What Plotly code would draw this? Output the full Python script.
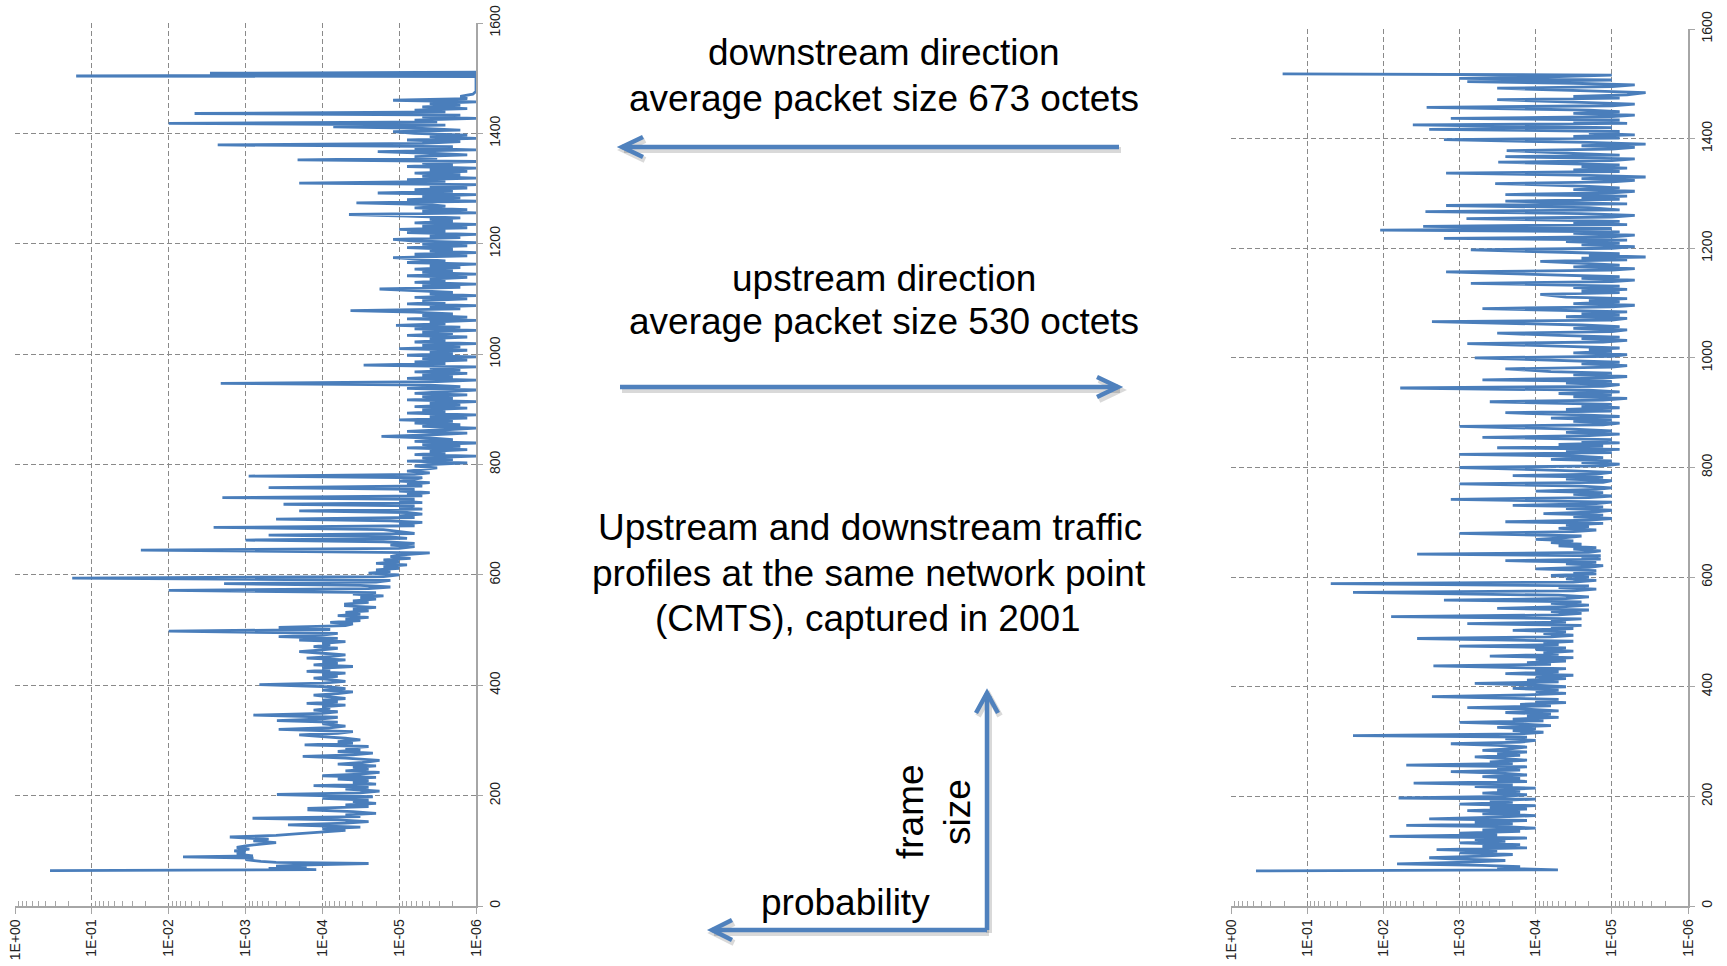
import plotly.graph_objects as go

# ---------------- data ----------------
ds_size = [
    64, 66, 68, 70, 72, 74, 77, 79, 81, 84,
    87, 89, 91, 94, 97, 100, 103, 106, 109, 112,
    115, 118, 121, 125, 128, 131, 134, 137, 140, 143,
    147, 150, 153, 156, 159, 162, 165, 168, 171, 174,
    177, 180, 183, 186, 189, 192, 195, 198, 202, 205,
    208, 212, 215, 218, 221, 224, 227, 230, 233, 236,
    239, 242, 245, 248, 251, 254, 257, 260, 264, 268,
    271, 274, 277, 280, 283, 286, 289, 292, 295, 298,
    301, 304, 307, 310, 313, 316, 320, 323, 326, 330,
    333, 336, 339, 342, 346, 349, 352, 355, 358, 361,
    364, 367, 370, 373, 376, 379, 382, 385, 388, 391,
    394, 397, 401, 404, 407, 410, 413, 416, 419, 422,
    425, 428, 431, 434, 437, 440, 443, 446, 449, 452,
    455, 458, 461, 464, 467, 470, 473, 476, 479, 482,
    485, 488, 491, 494, 498, 501, 505, 508, 511, 514,
    517, 520, 523, 526, 529, 532, 535, 538, 541, 544,
    547, 550, 553, 556, 559, 562, 565, 568, 572, 575,
    578, 581, 584, 587, 590, 594, 597, 600, 603, 606,
    609, 612, 615, 618, 621, 624, 627, 630, 633, 636,
    640, 645, 648, 651, 654, 657, 660, 663, 666, 669,
    672, 675, 678, 682, 686, 689, 692, 695, 698, 701,
    704, 707, 710, 713, 716, 719, 722, 725, 728, 731,
    734, 737, 740, 743, 746, 749, 752, 755, 758, 761,
    764, 767, 770, 773, 776, 779, 782, 785, 788, 791,
    794, 797,
    800, 803, 806, 809, 812, 815, 818, 821, 824, 827,
    830, 833, 836, 839, 842, 845, 848, 851, 854, 857,
    860, 863, 866, 869, 872, 875, 878, 881, 884, 887,
    890, 893, 896, 899, 902, 905, 908, 911, 914, 917,
    920, 923, 926, 929, 932, 935, 938, 941, 944, 947,
    950, 953, 956, 959, 962, 965, 968, 971, 974, 977,
    980, 983, 986, 989, 992, 995, 998, 1001, 1004, 1007,
    1010, 1013, 1016, 1019, 1022, 1025, 1028, 1031, 1034, 1037,
    1040, 1043, 1046, 1049, 1052, 1055, 1058, 1061, 1064, 1067,
    1070, 1073, 1076, 1079, 1082, 1085, 1088, 1091, 1094, 1097,
    1100, 1103, 1106, 1109, 1112, 1115, 1118, 1121, 1124, 1127,
    1130, 1133, 1136, 1139, 1142, 1145, 1148, 1151, 1154, 1157,
    1160, 1163, 1166, 1169, 1172, 1175, 1178, 1181, 1184, 1187,
    1190, 1193, 1196, 1199, 1202, 1205, 1208, 1211, 1214, 1217,
    1220, 1223, 1226, 1229, 1232, 1235, 1238, 1241, 1244, 1247,
    1250, 1253, 1256, 1259, 1262, 1265, 1268, 1271, 1274, 1277,
    1280, 1283, 1286, 1289, 1292, 1295, 1298, 1301, 1304, 1307,
    1310, 1313, 1316, 1319, 1322, 1325, 1328, 1331, 1334, 1337,
    1340, 1343, 1346, 1349, 1352, 1355, 1358, 1361, 1364, 1367,
    1370, 1373, 1376, 1379, 1382, 1385, 1388, 1391, 1394, 1397,
    1400, 1403, 1406, 1409, 1412, 1415, 1418, 1421, 1424, 1427,
    1430, 1433, 1436, 1439, 1442, 1445, 1448, 1451, 1454, 1457,
    1460, 1463, 1467, 1471, 1476, 1486, 1496, 1503, 1504, 1506,
    1509, 1511,
]
ds_prob = [
    3.5e-1, 1.2e-4, 5.0e-4, 1.6e-4, 4.0e-4, 2.0e-4, 2.5e-5, 4.0e-4, 6.3e-4, 1.0e-3,
    7.9e-4, 6.5e-3, 8.0e-4, 1.3e-3, 1.0e-3, 1.4e-3, 8.9e-4, 1.3e-3, 1.0e-3, 6.3e-4,
    4.0e-4, 7.9e-4, 5.0e-4, 1.6e-3, 4.0e-4, 2.0e-4, 1.0e-4, 5.0e-5, 1.0e-4, 3.2e-5,
    2.8e-4, 5.0e-5, 2.5e-5, 6.3e-5, 8.1e-4, 3.2e-5, 5.0e-5, 2.0e-5, 4.0e-5, 1.5e-4,
    1.5e-4, 2.5e-5, 5.0e-5, 2.0e-5, 4.0e-5, 2.5e-5, 1.0e-4, 2.2e-5, 3.9e-4, 3.2e-5,
    1.8e-5, 5.0e-5, 2.5e-5, 1.3e-4, 2.0e-5, 4.0e-5, 2.5e-5, 6.3e-5, 2.0e-5, 1.0e-4,
    3.2e-5, 1.8e-5, 5.0e-5, 2.5e-5, 4.0e-5, 2.0e-5, 6.3e-5, 3.0e-5, 1.8e-5, 5.0e-5,
    1.8e-4, 4.0e-5, 2.2e-5, 6.3e-5, 3.2e-5, 5.0e-5, 2.5e-5, 1.7e-4, 4.0e-5, 6.3e-5,
    3.2e-5, 5.0e-5, 1.0e-4, 2.0e-4, 6.3e-5, 4.0e-5, 3.7e-4, 8.0e-5, 5.0e-5, 1.0e-4,
    6.3e-5, 3.9e-4, 1.0e-4, 6.3e-5, 7.9e-4, 1.0e-4, 6.3e-5, 1.3e-4, 7.9e-5, 1.0e-4,
    5.0e-5, 1.6e-4, 6.3e-5, 1.0e-4, 5.0e-5, 7.9e-5, 1.3e-4, 6.3e-5, 4.0e-5, 1.0e-4,
    5.0e-5, 7.9e-5, 6.6e-4, 1.0e-4, 5.0e-5, 7.9e-5, 1.3e-4, 6.3e-5, 1.0e-4, 5.0e-5,
    1.6e-4, 7.9e-5, 1.0e-4, 4.0e-5, 1.3e-4, 6.3e-5, 1.0e-4, 5.0e-5, 1.6e-4, 7.9e-5,
    5.0e-5, 1.0e-4, 2.0e-4, 1.0e-4, 6.3e-5, 1.3e-4, 7.9e-5, 1.0e-4, 5.0e-5, 2.0e-4,
    6.3e-5, 3.7e-4, 1.0e-4, 6.3e-5, 1.0e-2, 7.9e-5, 3.7e-4, 5.0e-5, 4.0e-5, 7.9e-5,
    3.2e-5, 5.0e-5, 2.5e-5, 6.3e-5, 3.2e-5, 5.0e-5, 2.5e-5, 4.0e-5, 2.0e-5, 5.0e-5,
    5.0e-5, 2.5e-5, 4.0e-5, 2.0e-5, 3.2e-5, 1.6e-5, 4.0e-5, 2.0e-5, 1.0e-2, 2.5e-5,
    1.3e-5, 3.2e-5, 1.9e-3, 2.0e-5, 1.3e-5, 1.8e-1, 1.6e-5, 1.0e-5, 2.5e-5, 1.3e-5,
    2.0e-5, 1.0e-5, 1.6e-5, 7.9e-6, 2.0e-5, 1.0e-5, 1.6e-5, 7.1e-6, 1.3e-5, 1.0e-5,
    4.0e-6, 2.3e-2, 1.0e-5, 6.3e-6, 1.3e-5, 6.3e-6, 1.6e-5, 1.0e-3, 7.9e-6, 1.3e-5,
    5.0e-4, 6.3e-6, 1.0e-5, 1.6e-5, 2.6e-3, 6.3e-6, 1.0e-5, 5.0e-6, 1.3e-5, 4.0e-4,
    6.3e-6, 1.0e-5, 5.0e-6, 7.9e-6, 2.0e-4, 5.0e-6, 1.0e-5, 6.3e-6, 3.2e-4, 5.0e-6,
    1.0e-5, 6.3e-6, 2.0e-3, 5.0e-6, 7.9e-6, 4.0e-6, 1.0e-5, 6.3e-6, 5.0e-4, 5.0e-6,
    7.9e-6, 4.0e-6, 1.0e-5, 6.3e-6, 5.0e-6, 9.1e-4, 6.3e-6, 4.0e-6, 7.9e-6, 5.0e-6,
    3.2e-6, 6.3e-6,
    4.0e-6, 1.3e-6, 7.9e-6, 2.0e-6, 5.0e-6, 1.0e-6, 6.3e-6, 2.5e-6, 4.0e-6, 1.3e-6,
    7.9e-6, 1.6e-6, 5.0e-6, 1.0e-6, 6.3e-6, 2.0e-6, 4.0e-6, 1.7e-5, 3.2e-6, 1.3e-6,
    7.9e-6, 2.5e-6, 1.0e-6, 5.0e-6, 1.6e-6, 6.3e-6, 2.0e-6, 1.0e-5, 1.3e-6, 4.0e-6,
    1.0e-6, 7.9e-6, 2.5e-6, 5.0e-6, 1.3e-6, 6.3e-6, 1.6e-6, 4.0e-6, 1.0e-6, 7.9e-6,
    2.0e-6, 5.0e-6, 1.3e-6, 6.3e-6, 2.5e-6, 1.0e-6, 7.9e-6, 1.6e-6, 4.0e-6, 2.1e-3,
    3.2e-6, 1.0e-6, 7.9e-6, 2.0e-6, 5.0e-6, 1.3e-6, 6.3e-6, 1.6e-6, 4.0e-6, 1.0e-6,
    2.9e-5, 2.5e-6, 6.3e-6, 1.3e-6, 5.0e-6, 1.0e-6, 7.9e-6, 2.0e-6, 4.0e-6, 1.3e-6,
    1.0e-5, 1.6e-6, 5.0e-6, 1.0e-6, 6.3e-6, 2.5e-6, 4.0e-6, 1.3e-6, 7.9e-6, 2.0e-6,
    5.0e-6, 1.0e-6, 6.3e-6, 1.6e-6, 1.1e-5, 2.5e-6, 4.0e-6, 1.0e-6, 7.9e-6, 1.3e-6,
    5.0e-6, 2.0e-6, 6.3e-6, 4.3e-5, 1.6e-6, 4.0e-6, 1.0e-6, 7.9e-6, 2.5e-6, 5.0e-6,
    1.3e-6, 6.3e-6, 1.0e-6, 4.0e-6, 2.0e-6, 7.9e-6, 1.8e-5, 1.6e-6, 5.0e-6, 1.0e-6,
    6.3e-6, 2.5e-6, 4.0e-6, 1.3e-6, 7.9e-6, 1.0e-6, 5.0e-6, 2.0e-6, 6.3e-6, 1.6e-6,
    4.0e-6, 1.0e-6, 7.9e-6, 2.5e-6, 5.0e-6, 1.2e-5, 1.3e-6, 6.3e-6, 1.0e-6, 4.0e-6,
    2.0e-6, 7.9e-6, 1.3e-6, 5.0e-6, 1.0e-6, 6.3e-6, 1.2e-5, 1.6e-6, 4.0e-6, 1.0e-6,
    7.9e-6, 2.5e-6, 1.0e-5, 1.3e-6, 5.0e-6, 1.0e-6, 6.3e-6, 2.0e-6, 4.0e-6, 1.6e-6,
    7.9e-6, 4.5e-5, 1.0e-6, 5.0e-6, 1.3e-6, 6.3e-6, 2.5e-6, 4.0e-6, 3.6e-5, 1.0e-6,
    7.9e-6, 1.6e-6, 5.0e-6, 1.0e-6, 1.9e-5, 2.0e-6, 6.3e-6, 1.3e-6, 4.0e-6, 1.0e-6,
    2.0e-4, 2.5e-6, 7.9e-6, 1.0e-6, 5.0e-6, 1.6e-6, 6.3e-6, 1.3e-6, 4.0e-6, 1.0e-6,
    7.9e-6, 2.0e-6, 5.0e-6, 1.0e-6, 2.1e-4, 3.2e-6, 6.3e-6, 1.3e-6, 4.0e-6, 1.9e-5,
    1.0e-6, 6.3e-6, 2.0e-6, 2.3e-3, 5.0e-6, 1.6e-6, 7.9e-6, 1.0e-6, 4.0e-6, 1.3e-6,
    6.3e-6, 1.2e-5, 1.6e-6, 5.0e-6, 7.2e-5, 2.5e-6, 1.0e-2, 3.2e-6, 6.3e-6, 1.0e-6,
    5.0e-6, 1.6e-6, 4.6e-3, 2.5e-6, 6.3e-6, 1.3e-6, 5.0e-6, 1.6e-6, 4.0e-6, 1.0e-6,
    1.2e-5, 1.3e-6, 1.6e-6, 1.1e-6, 1.0e-6, 1.0e-6, 1.0e-6, 1.0e-6, 1.6e-1, 1.0e-6,
    2.9e-3, 1.0e-6,
]

us_size = [
    64, 66, 69, 72, 74, 77, 80, 83, 86, 88,
    91, 94, 97, 100, 103, 106, 109, 112, 115, 118,
    121, 124, 127, 130, 133, 136, 139, 142, 145, 147,
    150, 153, 156, 159, 162, 165, 168, 171, 174, 177,
    180, 183, 186, 189, 192, 195, 197, 200, 203, 206,
    209, 212, 215, 218, 221, 224, 227, 230, 233, 236,
    239, 242, 245, 248, 251, 254, 257, 260, 263, 266,
    269, 272, 275, 278, 281, 284, 287, 290, 293, 296,
    299, 302, 305, 308, 311, 314, 317, 320, 323, 326,
    329, 332, 335, 338, 341, 344, 347, 350, 353, 356,
    359, 362, 365, 368, 371, 374, 377, 382, 385, 388,
    391, 394, 397, 400, 403, 406, 409, 412, 415, 418,
    421, 424, 427, 430, 433, 438, 441, 444, 447, 450,
    453, 456, 459, 462, 465, 468, 471, 474, 477, 480,
    483, 488, 491, 494, 497, 500, 503, 506, 509, 512,
    515, 518, 521, 524, 528, 531, 534, 537, 540, 543,
    546, 549, 552, 555, 558, 561, 564, 567, 572, 575,
    578, 581, 584, 588, 591, 594, 597, 600, 603, 606,
    609, 612, 615, 618, 621, 624, 627, 630, 633, 636,
    639, 642, 645, 648, 651, 654, 657, 660, 663, 666,
    669, 672, 675, 680, 683, 686, 689, 692, 695, 698,
    701, 704, 707, 710, 713, 716, 719, 722, 725, 728,
    731, 734, 737, 742, 745, 748, 751, 754, 757, 760,
    763, 766, 770, 773, 776, 779, 782, 785, 788, 791,
    794, 800, 803, 806, 809, 812, 815, 818, 821, 824,
    827, 830, 833, 836, 839, 842, 845, 848, 851, 855,
    858, 861, 864, 867, 870, 875, 878, 881, 884, 887,
    890, 893, 896, 900, 903, 906, 909, 912, 915, 920,
    923, 926, 929, 932, 935, 938, 941, 945, 948, 951,
    954, 957, 960, 963, 966, 969, 972, 975, 980, 983,
    986, 989, 992, 995, 1000, 1003, 1006, 1009, 1012, 1015,
    1018, 1021, 1026, 1029, 1032, 1035, 1038, 1041, 1045, 1048,
    1051, 1054, 1057, 1060, 1066, 1069, 1072, 1075, 1078, 1081,
    1084, 1090, 1093, 1096, 1099, 1102, 1105, 1108, 1111, 1116,
    1119, 1122, 1125, 1128, 1131, 1136, 1139, 1142, 1145, 1148,
    1151, 1157, 1160, 1163, 1166, 1169, 1172, 1176, 1179, 1182,
    1184, 1187, 1190, 1193, 1197, 1200, 1203, 1206, 1209, 1212,
    1215, 1218, 1221, 1224, 1227, 1230, 1233, 1236, 1240, 1243,
    1246, 1249, 1254, 1257, 1260, 1263, 1267, 1270, 1274, 1278,
    1281, 1283, 1286, 1289, 1292, 1295, 1298, 1301, 1304, 1307,
    1310, 1313, 1318, 1321, 1324, 1327, 1330, 1333, 1337, 1340,
    1343, 1346, 1349, 1352, 1357, 1360, 1363, 1367, 1370, 1373,
    1378, 1381, 1384, 1387, 1390, 1393, 1398, 1401, 1404, 1407,
    1410, 1413, 1417, 1420, 1425, 1428, 1431, 1434, 1437, 1440,
    1443, 1446, 1449, 1452, 1457, 1460, 1463, 1466, 1471, 1474,
    1477, 1480, 1484, 1487, 1492, 1495, 1498, 1501, 1504, 1507,
    1510, 1513, 1516, 1518,
]
us_prob = [
    4.7e-1, 5.1e-5, 3.2e-4, 1.6e-4, 5.0e-4, 6.6e-3, 7.9e-4, 2.5e-4, 1.3e-3, 2.5e-3,
    5.0e-4, 2.0e-4, 1.0e-3, 3.2e-4, 2.0e-3, 1.3e-4, 5.0e-4, 1.6e-4, 1.0e-3, 2.5e-4,
    6.3e-4, 1.3e-4, 8.3e-3, 3.2e-4, 1.0e-3, 1.6e-4, 5.0e-4, 1.0e-4, 3.2e-4, 5.0e-3,
    2.0e-4, 6.3e-4, 1.3e-4, 2.5e-3, 3.2e-4, 1.0e-4, 5.0e-4, 1.6e-4, 7.9e-4, 1.3e-4,
    4.0e-4, 1.0e-4, 1.0e-3, 2.0e-4, 4.0e-4, 1.0e-4, 6.3e-3, 2.5e-4, 1.3e-4, 5.0e-4,
    1.6e-4, 3.2e-4, 1.0e-4, 6.3e-4, 2.0e-4, 4.0e-3, 1.3e-4, 3.2e-4, 1.6e-4, 5.0e-4,
    1.3e-4, 2.5e-4, 1.3e-3, 1.6e-4, 3.2e-4, 1.3e-4, 5.0e-3, 2.0e-4, 4.0e-4, 1.3e-4,
    2.5e-4, 6.3e-4, 1.6e-4, 3.2e-4, 1.3e-4, 5.0e-4, 2.0e-4, 1.3e-4, 3.2e-4, 1.3e-3,
    1.6e-4, 1.0e-4, 2.5e-4, 1.3e-4, 2.5e-2, 1.6e-4, 7.9e-5, 2.0e-4, 1.0e-4, 3.2e-4,
    6.3e-5, 1.6e-4, 1.0e-3, 7.9e-5, 2.0e-4, 5.0e-5, 1.3e-4, 6.3e-5, 2.5e-4, 5.0e-5,
    1.3e-4, 7.9e-4, 6.3e-5, 1.6e-4, 4.0e-5, 1.0e-4, 5.0e-5, 2.3e-3, 1.3e-4, 4.0e-5,
    1.0e-4, 5.0e-5, 2.0e-4, 4.0e-5, 1.0e-4, 6.3e-4, 5.0e-5, 1.3e-4, 4.0e-5, 1.0e-4,
    3.2e-5, 2.5e-4, 5.0e-5, 1.0e-4, 4.0e-5, 2.2e-3, 6.3e-5, 1.3e-4, 4.0e-5, 1.0e-4,
    3.2e-5, 4.0e-4, 5.0e-5, 7.9e-5, 3.2e-5, 1.0e-4, 4.0e-5, 1.0e-3, 5.0e-5, 7.9e-5,
    3.2e-5, 3.6e-3, 6.3e-5, 3.2e-5, 7.9e-5, 4.0e-5, 2.0e-4, 3.2e-5, 6.3e-5, 2.5e-5,
    7.9e-4, 4.0e-5, 6.3e-5, 2.5e-5, 7.9e-3, 5.0e-5, 2.5e-5, 6.3e-5, 2.0e-5, 3.2e-4,
    4.0e-5, 2.0e-5, 6.3e-5, 2.5e-5, 1.6e-3, 4.0e-5, 2.0e-5, 5.0e-5, 2.5e-2, 3.2e-5,
    1.6e-5, 5.0e-5, 2.0e-5, 4.9e-2, 3.2e-5, 1.6e-5, 4.0e-5, 2.0e-5, 6.3e-5, 1.6e-5,
    3.2e-5, 1.6e-5, 1.0e-4, 2.0e-5, 1.3e-5, 4.0e-5, 1.6e-5, 2.5e-4, 1.4e-5, 2.5e-5,
    1.4e-5, 3.6e-3, 2.0e-5, 1.4e-5, 3.2e-5, 1.6e-5, 5.0e-5, 2.5e-5, 6.3e-5, 3.2e-5,
    1.0e-4, 4.0e-5, 2.5e-5, 1.0e-3, 3.2e-5, 1.6e-5, 5.0e-5, 2.0e-5, 4.0e-5, 1.3e-5,
    2.5e-4, 2.0e-5, 1.0e-5, 3.2e-5, 1.3e-5, 7.9e-5, 1.6e-5, 1.0e-5, 4.0e-5, 1.3e-5,
    2.0e-4, 1.6e-5, 1.0e-5, 1.3e-3, 2.0e-5, 1.0e-5, 3.2e-5, 1.3e-5, 1.0e-4, 1.6e-5,
    1.0e-5, 2.5e-5, 1.0e-3, 1.3e-5, 1.0e-5, 4.0e-5, 1.3e-5, 2.0e-4, 1.6e-5, 1.0e-5,
    3.2e-5, 1.0e-3, 1.3e-5, 7.9e-6, 2.5e-5, 1.0e-5, 6.3e-5, 1.3e-5, 3.2e-5, 1.0e-3,
    1.0e-5, 4.0e-5, 7.9e-6, 3.2e-4, 1.3e-5, 5.0e-5, 7.9e-6, 2.5e-5, 1.0e-5, 5.0e-4,
    2.0e-5, 7.9e-6, 4.0e-5, 1.0e-5, 3.2e-5, 1.0e-3, 1.3e-5, 7.9e-6, 3.2e-5, 1.0e-5,
    6.3e-5, 7.9e-6, 2.5e-5, 2.5e-4, 1.0e-5, 4.0e-5, 7.9e-6, 2.5e-5, 1.0e-5, 4.0e-4,
    1.3e-5, 6.3e-6, 3.2e-5, 1.0e-5, 5.0e-5, 7.9e-6, 2.0e-5, 6.0e-3, 1.3e-5, 7.9e-6,
    4.0e-5, 1.0e-5, 5.0e-4, 1.3e-5, 6.3e-6, 3.2e-5, 1.0e-5, 6.3e-5, 2.5e-4, 1.0e-5,
    6.3e-6, 2.5e-5, 7.9e-6, 5.0e-5, 6.3e-4, 1.0e-5, 6.3e-6, 3.2e-5, 1.0e-5, 2.0e-5,
    7.9e-6, 4.0e-5, 7.9e-4, 1.3e-5, 6.3e-6, 2.5e-5, 7.9e-6, 5.0e-5, 3.2e-4, 1.0e-5,
    6.3e-6, 3.2e-5, 7.9e-6, 2.5e-5, 2.3e-3, 1.0e-5, 6.3e-6, 4.0e-5, 7.9e-6, 2.5e-5,
    6.3e-6, 5.0e-4, 1.0e-5, 5.0e-6, 3.2e-5, 7.9e-6, 2.0e-5, 6.3e-6, 4.0e-5, 8.7e-5,
    7.9e-6, 2.5e-5, 6.3e-6, 3.2e-5, 7.9e-6, 7.1e-4, 1.0e-5, 5.0e-6, 2.5e-5, 7.9e-6,
    4.0e-5, 1.5e-3, 1.0e-5, 5.0e-6, 3.2e-5, 7.9e-6, 2.0e-5, 8.7e-5, 6.3e-6, 2.5e-5,
    3.6e-6, 2.0e-5, 7.9e-6, 4.0e-5, 7.1e-4, 1.0e-5, 5.0e-6, 2.5e-5, 7.9e-6, 4.0e-5,
    6.3e-6, 1.6e-3, 1.0e-5, 5.0e-6, 3.2e-5, 7.9e-6, 1.1e-2, 1.0e-5, 3.0e-3, 6.3e-6,
    3.2e-5, 7.9e-6, 8.1e-4, 1.0e-5, 5.0e-6, 2.5e-5, 2.8e-3, 7.9e-6, 2.0e-5, 1.5e-3,
    6.3e-6, 4.0e-5, 2.5e-4, 7.9e-6, 2.5e-5, 6.3e-6, 2.5e-4, 1.0e-5, 5.0e-6, 3.2e-5,
    7.9e-6, 2.0e-5, 3.4e-4, 1.0e-5, 5.0e-6, 2.5e-5, 3.6e-6, 2.0e-5, 1.5e-3, 7.9e-6,
    3.2e-5, 6.3e-6, 2.5e-5, 7.9e-6, 3.1e-4, 1.0e-5, 5.0e-6, 2.5e-4, 7.9e-6, 3.2e-5,
    2.4e-4, 1.0e-5, 5.0e-6, 2.5e-5, 3.6e-6, 2.0e-5, 1.6e-3, 7.9e-6, 3.2e-5, 5.0e-6,
    2.0e-5, 7.9e-6, 2.5e-3, 1.0e-5, 4.1e-3, 6.3e-6, 3.2e-5, 7.9e-6, 1.3e-3, 1.0e-5,
    5.0e-6, 3.2e-5, 7.9e-6, 2.0e-5, 2.7e-3, 1.0e-5, 5.0e-6, 2.5e-5, 3.2e-4, 7.9e-6,
    3.2e-5, 6.3e-6, 3.6e-6, 2.0e-5, 3.2e-4, 1.0e-5, 5.0e-6, 3.2e-5, 7.9e-4, 1.0e-5,
    1.0e-3, 5.0e-5, 1.0e-5, 2.1e-1,
]

x_tick_vals = [1, 1e-1, 1e-2, 1e-3, 1e-4, 1e-5, 1e-6]
x_tick_text = ["1E+00", "1E-01", "1E-02", "1E-03", "1E-04", "1E-05", "1E-06"]
y_tick_vals = [0, 200, 400, 600, 800, 1000, 1200, 1400, 1600]

texts_top = ["downstream direction", "average packet size 673 octets"]
texts_mid = ["upstream direction", "average packet size 530 octets"]
texts_note = ["Upstream and downstream traffic",
              "profiles at the same network point",
              "(CMTS), captured in 2001"]

# ---------------- layout helpers ----------------
W, H = 1727, 966
def px(x):
    return x / W
def py(y):
    return 1 - y / H

BLUE = "#4A7EBB"
ARROW = "#4F81BD"
GRID = "#8a8a8a"
AXIS = "#a6a6a6"
FONT = "Arial, Liberation Sans, sans-serif"
DASH = "5px,3px"

minor_vals = []
for e in range(0, 6):
    for m in range(2, 10):
        minor_vals.append(m * 10 ** (-e - 1))

fig = go.Figure()
fig.add_trace(go.Scatter(x=ds_prob, y=ds_size, mode="lines", xaxis="x", yaxis="y",
                         line=dict(color=BLUE, width=2.8), hoverinfo="skip"))
fig.add_trace(go.Scatter(x=us_prob, y=us_size, mode="lines", xaxis="x2", yaxis="y2",
                         line=dict(color=BLUE, width=2.8), hoverinfo="skip"))

def xaxis_def(domain, anchor):
    return dict(domain=domain, anchor=anchor, type="log", range=[0, -6],
                tickvals=x_tick_vals, ticktext=x_tick_text, tickangle=-90,
                ticks="outside", ticklen=6, tickcolor=AXIS, tickwidth=1.3,
                showline=True, linecolor=AXIS, linewidth=1.5,
                showgrid=True, gridcolor=GRID, griddash=DASH, gridwidth=1,
                zeroline=False, tickfont=dict(family=FONT, size=14, color="#222"),
                minor=dict(tickvals=minor_vals, ticks="inside", ticklen=5,
                           tickcolor=AXIS, tickwidth=1.2, showgrid=False),
                automargin=False, fixedrange=True)

def yaxis_def(domain, anchor):
    return dict(domain=domain, anchor=anchor, side="right", range=[0, 1600],
                tickvals=y_tick_vals, tickangle=-90,
                ticks="outside", ticklen=5, tickcolor=AXIS, tickwidth=1.3,
                showline=True, linecolor=AXIS, linewidth=1.5,
                showgrid=True, gridcolor=GRID, griddash=DASH, gridwidth=1,
                zeroline=False, tickfont=dict(family=FONT, size=14, color="#222"),
                automargin=False, fixedrange=True)

fig.update_layout(
    width=W, height=H, autosize=False,
    margin=dict(l=0, r=0, t=0, b=0, pad=0, autoexpand=False),
    paper_bgcolor="white", plot_bgcolor="white", showlegend=False,
    xaxis=xaxis_def([px(15), px(476)], "y"),
    yaxis=yaxis_def([py(906), py(23)], "x"),
    xaxis2=xaxis_def([px(1231), px(1688)], "y2"),
    yaxis2=yaxis_def([py(906), py(29)], "x2"),
)

# ---------------- arrows (decorations) ----------------
shapes = []
def seg(x0, y0, x1, y1, color, width):
    shapes.append(dict(type="line", xref="paper", yref="paper",
                       x0=px(x0), y0=py(y0), x1=px(x1), y1=py(y1),
                       line=dict(color=color, width=width)))
def chevron(pts, color, width):
    d = "M {} {}".format(px(pts[0][0]), py(pts[0][1]))
    for (a, b) in pts[1:]:
        d += " L {} {}".format(px(a), py(b))
    shapes.append(dict(type="path", xref="paper", yref="paper", path=d,
                       line=dict(color=color, width=width)))

arrows = [
    ((1119, 147), (622, 147), [(643, 137), (622, 147), (643, 157)]),
    ((620, 387), (1118, 387), [(1097, 377), (1118, 387), (1097, 397)]),
    ((987, 930), (987, 693), [(976, 713), (987, 693), (998, 713)]),
    ((987, 930), (712, 930), [(732, 920), (712, 930), (732, 940)]),
]
SH = "rgba(0,0,0,0.15)"
for (a, b, ch) in arrows:
    seg(a[0] + 2, a[1] + 3, b[0] + 2, b[1] + 3, SH, 6)
    chevron([(p[0] + 2, p[1] + 3) for p in ch], SH, 6)
for (a, b, ch) in arrows:
    seg(a[0], a[1], b[0], b[1], ARROW, 4.5)
    chevron(ch, ARROW, 4.5)
fig.update_layout(shapes=shapes)

# ---------------- texts ----------------
ann = []
def txt(t, x, y, size, angle=0):
    ann.append(dict(text=t, xref="paper", yref="paper", x=px(x), y=py(y),
                    xanchor="center", yanchor="middle", showarrow=False,
                    textangle=angle, font=dict(family=FONT, size=size, color="black")))

txt(texts_top[0], 884, 53, 37)
txt(texts_top[1], 884, 98, 37)
txt(texts_mid[0], 884, 278, 37)
txt(texts_mid[1], 884, 322, 37)
txt(texts_note[0], 870, 527, 37)
txt(texts_note[1], 869, 573, 37)
txt(texts_note[2], 868, 618, 37)
txt("probability", 845, 902, 37)
txt("frame", 910, 812, 37, -90)
txt("size", 957, 812, 37, -90)
fig.update_layout(annotations=ann)

post = ("document.documentElement.style.margin='0';"
        "document.documentElement.style.padding='0';"
        "document.documentElement.style.overflow='hidden';"
        "document.body.style.margin='0';"
        "document.body.style.padding='0';"
        "document.body.style.overflow='hidden';")

fig.write_html("out.html", post_script=post, config={"displayModeBar": False})
